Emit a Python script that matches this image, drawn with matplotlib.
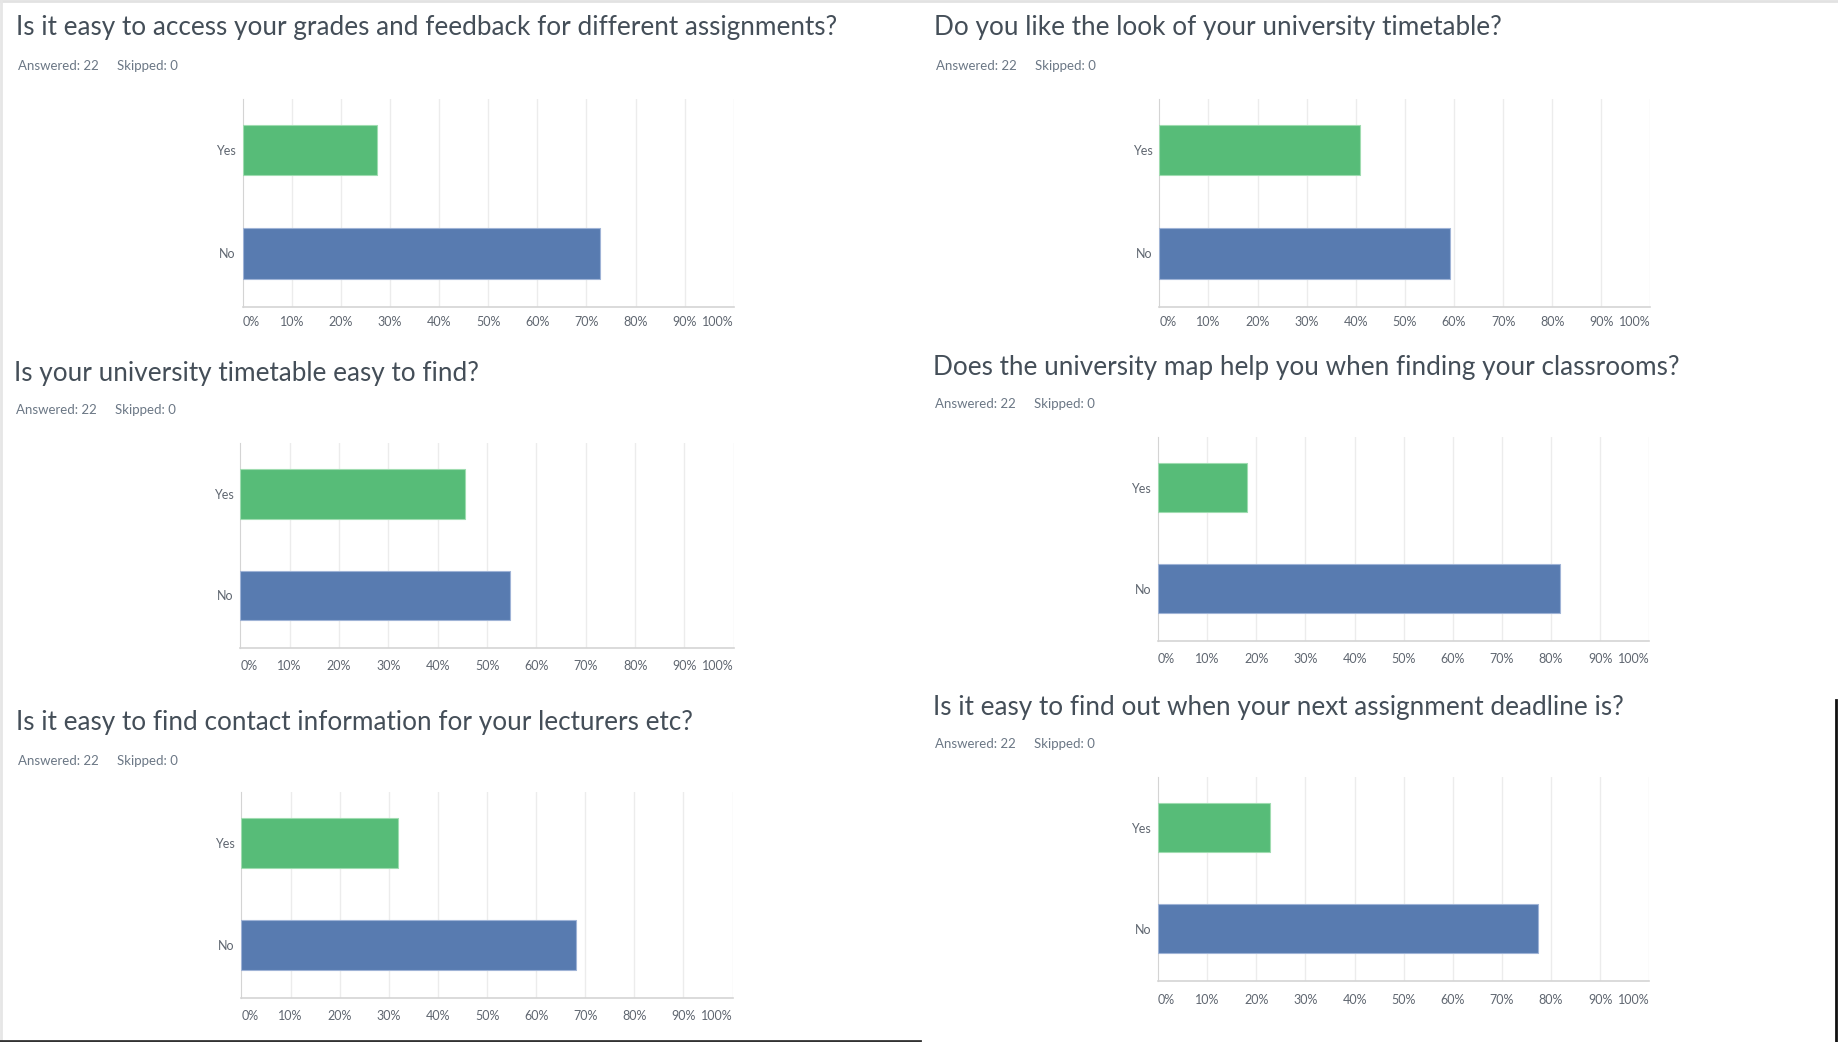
import matplotlib.pyplot as plt
from matplotlib.lines import Line2D

# ── Survey data (22 respondents each) ────────────────────────────────────────
answers = ["Yes", "No"]

titles = [
    "Is it easy to access your grades and feedback for different assignments?",
    "Do you like the look of your university timetable?",
    "Is your university timetable easy to find?",
    "Does the university map help you when finding your classrooms?",
    "Is it easy to find contact information for your lecturers etc?",
    "Is it easy to find out when your next assignment deadline is?",
]
yes_pct = [27.27, 40.91, 45.45, 18.18, 31.82, 22.73]
no_pct  = [72.73, 59.09, 54.55, 81.82, 68.18, 77.27]
answered = [22, 22, 22, 22, 22, 22]
skipped  = [0, 0, 0, 0, 0, 0]

tick_vals   = [0, 10, 20, 30, 40, 50, 60, 70, 80, 90, 100]
tick_labels = [f"{v}%" for v in tick_vals]

GREEN, BLUE = "#57bc78", "#587bb0"
TITLE_COL, META_COL, TICK_COL = "#444e58", "#6b7785", "#5f6670"

W, H = 1838, 1042
fig = plt.figure(figsize=(W / 100, H / 100), dpi=100)
fig.patch.set_facecolor("white")

FONT = ["Lato", "DejaVu Sans"]

# panel layout in pixels: (axes x0, x1, y0, y1, title x, title y, meta y, xtick pad)
layout = [
    (242.6, 733.8,  98.5, 307.0,  16.0,  27.5,  65.6, 6.5),
    (1159.3, 1650.5, 98.5, 307.0, 934.0,  27.5,  65.6, 6.5),
    (240.3, 733.8, 443.1, 648.2,  14.0, 373.5, 410.3, 8.5),
    (1158.1, 1649.3, 437.2, 641.2, 933.0, 367.5, 404.4, 8.5),
    (241.5, 732.6, 792.4, 997.5,  16.4, 722.5, 760.8, 9.0),
    (1158.1, 1649.3, 777.2, 981.1, 933.0, 707.5, 744.3, 9.0),
]


def px_rect(x0, x1, y0, y1):
    return [x0 / W, 1 - y1 / H, (x1 - x0) / W, (y1 - y0) / H]


for i, (x0, x1, y0, y1, tx, ty, my, xpad) in enumerate(layout):
    fig.text(tx / W, 1 - ty / H, titles[i], fontsize=18.8, color=TITLE_COL,
             family=FONT, weight="normal", ha="left", va="center")
    fig.text((tx + 2) / W, 1 - my / H, f"Answered: {answered[i]}",
             fontsize=9.5, color=META_COL, family=FONT, ha="left", va="center")
    fig.text((tx + 101) / W, 1 - my / H, f"Skipped: {skipped[i]}",
             fontsize=9.5, color=META_COL, family=FONT, ha="left", va="center")

    ax = fig.add_axes(px_rect(x0, x1, y0, y1))
    vals = [yes_pct[i], no_pct[i]]
    ax.barh([0, 1], vals, height=0.49, color=[GREEN, BLUE],
            edgecolor=["#9fdcb0", "#9fb3d6"], linewidth=0.8, zorder=3)
    ax.set_xlim(0, 100)
    ax.set_ylim(1.52, -0.5)

    for v in tick_vals[1:]:
        ax.axvline(v, color="#ececec", lw=1, zorder=1)

    ax.set_yticks([0, 1])
    ax.set_yticklabels(answers, family=FONT, fontsize=9, color=TICK_COL)
    ax.set_xticks(tick_vals)
    ax.set_xticklabels(tick_labels, family=FONT, fontsize=9, color=TICK_COL)
    xt = ax.get_xticklabels()
    xt[0].set_ha("left")
    xt[-1].set_ha("right")
    ax.tick_params(length=0)
    ax.tick_params(axis="x", pad=xpad)
    ax.tick_params(axis="y", pad=5)

    for s in ("top", "right"):
        ax.spines[s].set_visible(False)
    ax.spines["left"].set_color("#d4d4d4")
    ax.spines["bottom"].set_color("#d4d4d4")
    ax.spines["bottom"].set_linewidth(1.2)

# ── screenshot frame edges ───────────────────────────────────────────────────
fig.add_artist(Line2D([0, 1], [1 - 1 / H, 1 - 1 / H], color="#e2e2e2", lw=2))
fig.add_artist(Line2D([1 / W, 1 / W], [0, 1], color="#e6e6e6", lw=2))
fig.add_artist(Line2D([0, 920 / W], [1.5 / H, 1.5 / H], color="#333333", lw=2))
fig.add_artist(Line2D([1 - 2 / W, 1 - 2 / W], [0, 1 - 700 / H],
                      color="#111111", lw=2))

fig.savefig("out.png", dpi=100, facecolor="white")
